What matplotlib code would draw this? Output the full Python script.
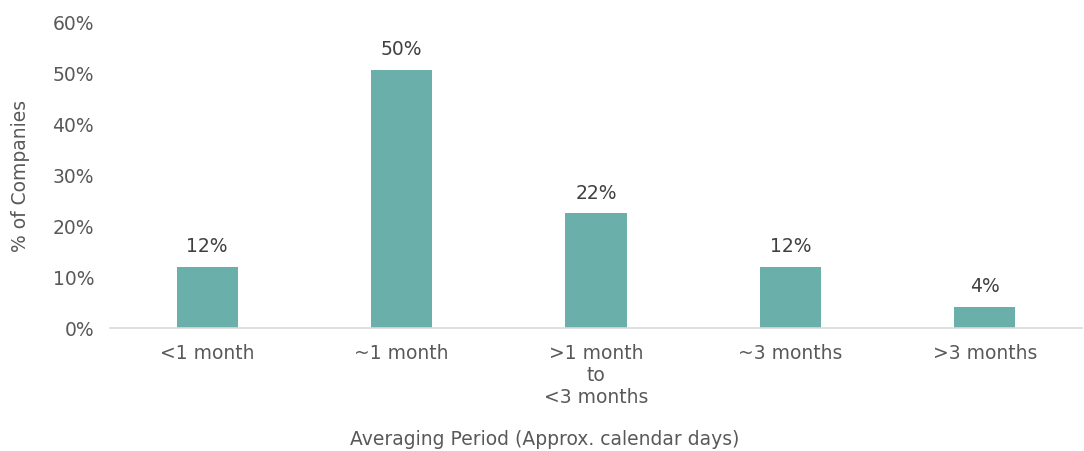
import matplotlib
matplotlib.use('Agg')
import matplotlib.pyplot as plt
from matplotlib.ticker import FuncFormatter

categories = ['<1 month', '~1 month', '>1 month\nto\n<3 months', '~3 months', '>3 months']
values = [12, 50.4, 22.4, 12, 4.1]
labels = ['12%', '50%', '22%', '12%', '4%']
yticks = [0, 10, 20, 30, 40, 50, 60]

plt.rcParams['font.family'] = ['DejaVu Sans']

fig = plt.figure(figsize=(10.84, 4.52), dpi=100)
ax = fig.add_axes([110 / 1084, 1 - 329 / 452, 972 / 1084, 307 / 452])

x = range(len(categories))
bars = ax.bar(x, values, width=0.315, color='#6aafa9', zorder=2)
for b, lab in zip(bars, labels):
    ax.text(b.get_x() + b.get_width() / 2, b.get_height() + 2.3, lab,
            ha='center', va='bottom', fontsize=13.5, color='#404040')

ax.set_xlim(-0.5, len(categories) - 0.5)
ax.set_ylim(0, 60)
ax.set_yticks(yticks)
ax.yaxis.set_major_formatter(FuncFormatter(lambda v, p: f'{v:.0f}%'))
ax.set_xticks(list(x))
ax.set_xticklabels(categories, linespacing=1.2)
ax.tick_params(axis='both', length=0, labelsize=13.5, colors='#595959')
ax.tick_params(axis='x', pad=11)
ax.tick_params(axis='y', pad=11.5)

for s in ['top', 'right', 'left']:
    ax.spines[s].set_visible(False)
ax.spines['bottom'].set_color('#d9d9d9')
ax.spines['bottom'].set_linewidth(1.2)

ax.set_ylabel('% of Companies', fontsize=13.5, color='#595959', labelpad=16)
fig.text(545 / 1084, 1 - 440 / 452, 'Averaging Period (Approx. calendar days)',
         ha='center', va='center', fontsize=13.5, color='#595959')

fig.savefig('out.png', dpi=100)
